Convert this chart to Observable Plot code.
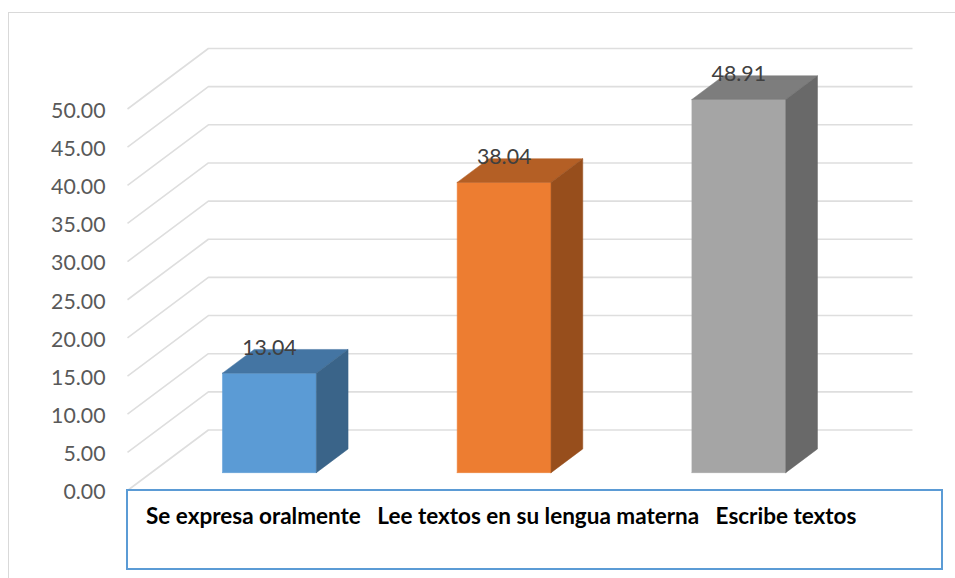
<!DOCTYPE html>
<html>
<head>
<meta charset="utf-8">
<script src="https://cdn.jsdelivr.net/npm/d3@7"></script>
<script src="https://cdn.jsdelivr.net/npm/@observablehq/plot@0.6"></script>
<style>
  html, body { margin: 0; padding: 0; background: #fff; overflow: hidden; }
  #page { position: relative; width: 955px; height: 578px; font-family: Lato, sans-serif; }
  #page svg { position: absolute; left: 0; top: 0; }
  #frame { position: absolute; left: 8px; top: 12px; width: 960px; height: 580px; border: 1.5px solid #d9d9d9; box-sizing: border-box; }
  #caption { position: absolute; left: 126px; top: 489px; width: 817px; height: 81px; box-sizing: border-box; border: 2px solid #5b9bd5; background: #fff; }
  #caption span { position: absolute; left: 18px; top: 11px; font-weight: 700; font-size: 22.5px; color: #000; white-space: pre; }
</style>
</head>
<body>
<div id="page">
  <div id="frame"></div>
  <div id="chart"></div>
  <div id="caption"><span id="captionText"></span></div>
</div>
<script>
const categories = ["Se expresa oralmente", "Lee textos en su lengua materna", "Escribe textos"];
const values = [13.04, 38.04, 48.91];
const valueLabels = ["13.04", "38.04", "48.91"];
const yTicks = [0, 5, 10, 15, 20, 25, 30, 35, 40, 45, 50];
const frontColors = ["#5b9bd5", "#ed7d31", "#a5a5a5"];
const topColors = ["#4475a3", "#b45f25", "#7d7d7d"];
const sideColors = ["#3a6489", "#974e1c", "#696969"];

// Oblique projection: depth d (0 = front of the floor, 1 = back wall) shifts a point
// along both scales, so everything still passes through Plot's x and y scales.
const depthX = 81 / 235;
const depthY = 60.5 / 7.63;
const barStart = 0.303, barWidth = 0.4;
const d0 = 0.295, d1 = 0.687;
const P = (x, v, d) => ({x: x + d * depthX, y: v + d * depthY});

const gridMarks = yTicks.map(v =>
  Plot.line([P(0, v, 0), P(0, v, 1), P(categories.length, v, 1)], {
    x: "x", y: "y", stroke: "#dedede", strokeWidth: 1.6, strokeLinecap: "butt"
  })
);

const face = (pts, fill) => Plot.line(pts, {x: "x", y: "y", fill, stroke: fill, strokeWidth: 0.5});

const barMarks = values.flatMap((v, i) => {
  const a = i + barStart, b = a + barWidth;
  return [
    face([P(a, 0, d0), P(b, 0, d0), P(b, v, d0), P(a, v, d0), P(a, 0, d0)], frontColors[i]),
    face([P(a, v, d0), P(b, v, d0), P(b, v, d1), P(a, v, d1), P(a, v, d0)], topColors[i]),
    face([P(b, 0, d0), P(b, 0, d1), P(b, v, d1), P(b, v, d0), P(b, 0, d0)], sideColors[i])
  ];
});

const labelData = values.map((v, i) => ({
  ...P(i + barStart + barWidth / 2, v, d0), text: valueLabels[i]
}));

const chart = Plot.plot({
  width: 955,
  height: 578,
  marginLeft: 127,
  marginRight: 43,
  marginTop: 48,
  marginBottom: 88,
  style: {background: "transparent", fontFamily: "Lato, sans-serif"},
  x: {domain: [0, categories.length + depthX], axis: null},
  y: {domain: [0, 50 + depthY], label: null},
  marks: [
    ...gridMarks,
    ...barMarks,
    Plot.axisY({
      ticks: yTicks, tickFormat: d => d.toFixed(2), tickSize: 0, tickPadding: 22, label: null,
      fontSize: 21.3, fill: "#595959", dy: 2
    }),
    Plot.text(labelData, {
      x: "x", y: "y", text: "text", dy: -25, fontSize: 21.3, fill: "#404040"
    })
  ]
});
document.getElementById("chart").appendChild(chart);
document.getElementById("captionText").textContent = categories.join("   ");
</script>
</body>
</html>
